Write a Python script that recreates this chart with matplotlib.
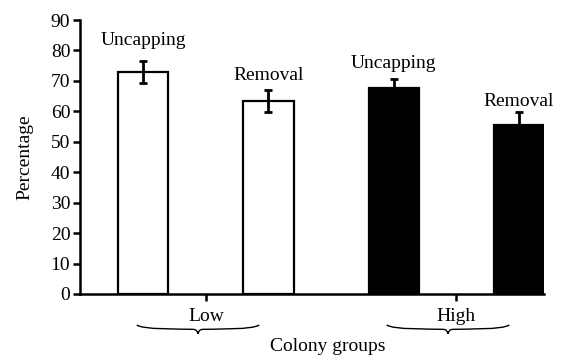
import matplotlib
matplotlib.use("Agg")
import matplotlib.pyplot as plt
from matplotlib.path import Path
from matplotlib.patches import PathPatch
import matplotlib.transforms as mtransforms
import numpy as np

groups = ["Low", "High"]
behaviours = ["Uncapping", "Removal"]
values_low = [73.0, 63.4]
errors_low = [3.6, 3.7]
values_high = [67.6, 55.4]
errors_high = [3.0, 4.4]
yticks = [0, 10, 20, 30, 40, 50, 60, 70, 80, 90]

plt.rcParams['font.family'] = ['Liberation Serif', 'DejaVu Serif']
FS = 14

fig = plt.figure(figsize=(5.61, 3.58), dpi=100)
ax = fig.add_axes([0.1426, 0.1788, 0.9697 - 0.1426, 0.944 - 0.1788])

offset = 0.25
width = 0.2
label_offsets_px = [[20, 14], [16, 10]]
for gi, (vals, errs, face) in enumerate([(values_low, errors_low, 'white'),
                                          (values_high, errors_high, 'black')]):
    for bi in range(2):
        x = gi + (-offset if bi == 0 else offset)
        ax.bar(x, vals[bi], width=width, color=face, edgecolor='black',
               linewidth=1.6, zorder=2)
        ax.errorbar(x, vals[bi], yerr=errs[bi], fmt='none', ecolor='black',
                    elinewidth=2, capsize=3, capthick=2, zorder=1 if face == 'black' else 3)
        ax.annotate(behaviours[bi], (x, vals[bi] + errs[bi]),
                    xytext=(0, label_offsets_px[gi][bi] * 0.72), textcoords='offset points',
                    ha='center', va='center', fontsize=FS)

ax.set_xlim(-0.504, 1.352)
ax.set_ylim(0, 90)
ax.set_yticks(yticks)
ax.set_xticks([0, 1])
ax.set_xticklabels(groups)
for s in ['top', 'right']:
    ax.spines[s].set_visible(False)
for s in ['left', 'bottom']:
    ax.spines[s].set_linewidth(1.8)
ax.tick_params(axis='both', width=1.8, length=5, labelsize=FS)
ax.tick_params(axis='x', pad=5)
ax.tick_params(axis='y', pad=2)
ax.set_ylabel("Percentage", fontsize=FS)
ax.yaxis.set_label_coords(-0.100, 0.5)
ax.set_xlabel("Colony groups", fontsize=FS, va='center')
ax.xaxis.set_label_coords(0.534, -0.193)

# curly braces beneath group labels
trans = mtransforms.blended_transform_factory(ax.transData, ax.transAxes)
def brace(xc, half, y0, h):
    verts = [(xc - half, y0),
             (xc - half * 0.9, y0 - h * 1.1), (xc - half * 0.3, y0 - h * 0.9),
             (xc - half * 0.08, y0 - h),
             (xc - half * 0.02, y0 - h * 1.05), (xc - half * 0.01, y0 - h * 1.5),
             (xc, y0 - h * 2.0),
             (xc + half * 0.01, y0 - h * 1.5), (xc + half * 0.02, y0 - h * 1.05),
             (xc + half * 0.08, y0 - h),
             (xc + half * 0.3, y0 - h * 0.9), (xc + half * 0.9, y0 - h * 1.1),
             (xc + half, y0)]
    codes = [Path.MOVETO] + [Path.CURVE4] * 12
    p = PathPatch(Path(verts, codes), transform=trans, fill=False, lw=1.0,
                  edgecolor='black', clip_on=False)
    ax.add_patch(p)

for gi in range(2):
    brace(gi - 0.032, 0.245, -0.113, 0.016)

fig.savefig("out.png", dpi=100)
